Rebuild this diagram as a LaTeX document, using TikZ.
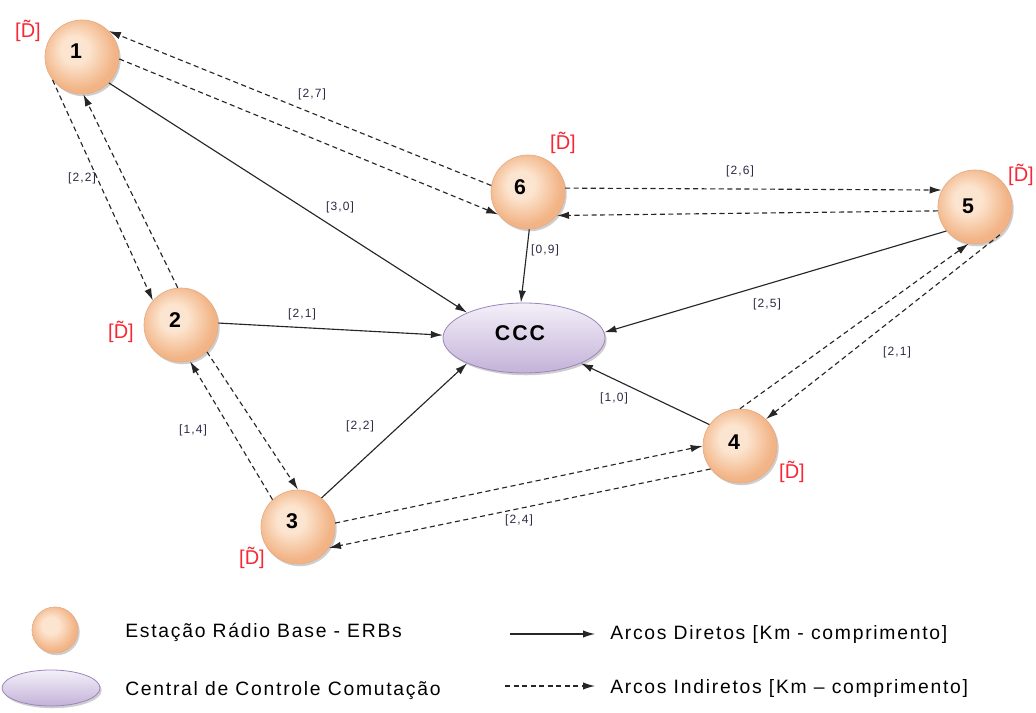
\documentclass[tikz,border=0pt]{standalone}
\usepackage{fontspec}
\setmainfont{Liberation Sans}[LetterSpace=9]
\newfontfamily\dfont{Liberation Sans}
\usetikzlibrary{arrows.meta,shadows,shapes.geometric}
\definecolor{erbL}{HTML}{FCE5D0}
\definecolor{erbD}{HTML}{F2B486}
\definecolor{erbB}{HTML}{E6AC82}
\definecolor{cccT}{HTML}{F4F0F9}
\definecolor{cccB}{HTML}{C3B2D8}
\definecolor{cccE}{HTML}{9A86BA}
\definecolor{dred}{HTML}{F52835}
\definecolor{lbl}{HTML}{2A2A44}
\definecolor{edge}{HTML}{262626}
\pgfdeclareradialshading{erbball}{\pgfpoint{-6bp}{6bp}}{color(0bp)=(erbL); color(9bp)=(erbL); color(25bp)=(erbD); color(50bp)=(erbD)}
\tikzset{
  erb/.style={circle, minimum size=55.5pt, inner sep=0pt, shade, shading=erbball,
    draw=erbB, line width=0.5pt,
    drop shadow={shadow xshift=1.3pt, shadow yshift=-1.7pt, fill=black!55, opacity=0.35}},
  cccs/.style={ellipse, minimum width=121.5pt, minimum height=52.5pt, inner sep=0pt,
    top color=cccT, bottom color=cccB, draw=cccE, line width=0.6pt,
    drop shadow={shadow xshift=1.3pt, shadow yshift=-1.7pt, fill=black!55, opacity=0.35}},
  numtxt/.style={font=\fontsize{16}{16}\selectfont\bfseries, inner sep=0pt},
  dt/.style={text=dred, font=\dfont\fontsize{15}{15}\selectfont, inner sep=0.5pt},
  el/.style={text=lbl, font=\fontsize{9}{9}\selectfont, inner sep=0pt},
  legtxt/.style={font=\fontsize{14.5}{14.5}\selectfont, inner sep=0pt, anchor=west},
  sarr/.style={draw=edge, line width=0.85pt, -{Latex[length=9pt,width=5.5pt]}},
  darr/.style={draw=edge, line width=0.85pt, dash pattern=on 3.8pt off 2.6pt,
    -{Latex[length=9pt,width=5.5pt]}},
}
\begin{document}
\begin{tikzpicture}[x=0.75pt,y=-0.75pt]
\path[use as bounding box] (0,0) rectangle (1036,713);

% nodes
\node[cccs] (ccc) at (524,338) {};
\node[font=\fontsize{16}{16}\selectfont\bfseries, inner sep=0pt] (ccct) at (520,333) {CCC};
\node[erb] (n1) at (82,57) {};
\node[erb] (n2) at (181,325) {};
\node[erb] (n3) at (298,527) {};
\node[erb] (n4) at (740,446) {};
\node[erb] (n5) at (975,207) {};
\node[erb] (n6) at (528,192) {};
\node[numtxt] (t1) at (76,51) {1};
\node[numtxt] (t2) at (175,320) {2};
\node[numtxt] (t3) at (292,521) {3};
\node[numtxt] (t4) at (734,442) {4};
\node[numtxt] (t5) at (968,206) {5};
\node[numtxt] (t6) at (520,187) {6};

% D labels
\node[dt] (d1) at (28,31) {[D̃]};
\node[dt] (d2) at (121,332) {[D̃]};
\node[dt] (d3) at (252,558) {[D̃]};
\node[dt] (d4) at (792,472) {[D̃]};
\node[dt] (d5) at (1021,175) {[D̃]};
\node[dt] (d6) at (563,143) {[D̃]};

% solid arcs
\draw[sarr] (n1.-44) -- (ccc.156);
\draw[sarr] (n2.3) -- (ccc.178);
\draw[sarr] (n3.51) -- (ccc.204);
\draw[sarr] (n6.-88) -- (ccc.95);
\draw[sarr] (n5.220) -- (ccc.4);
\draw[sarr] (n4.145) -- (ccc.-24);

% dashed arcs
\draw[darr] (n6.170) -- (n1.44);
\draw[darr] (n1.-3) -- (n6.217);
\draw[darr] (n6.6) -- (n5.153);
\draw[darr] (n5.186) -- (n6.-39);
\draw[darr] (n1.218) -- (n2.139);
\draw[darr] (n2.95) -- (n1.-88);
\draw[darr] (n2.-46) -- (n3.90);
\draw[darr] (n3.133) -- (n2.-76);
\draw[darr] (n3.6) -- (n4.180);
\draw[darr] (n4.218) -- (n3.-34);
\draw[darr] (n4.90) -- (n5.-100);
\draw[darr] (n5.-48) -- (n4.46);

% arc labels
\node[el] (l1) at (312,94) {[2,7]};
\node[el] (l2) at (82,178) {[2,2]};
\node[el] (l3) at (340,207) {[3,0]};
\node[el] (l4) at (740,171) {[2,6]};
\node[el] (l5) at (545,250) {[0,9]};
\node[el] (l6) at (302,314) {[2,1]};
\node[el] (l7) at (767,304) {[2,5]};
\node[el] (l8) at (897,352) {[2,1]};
\node[el] (l9) at (614,398) {[1,0]};
\node[el] (l10) at (193,430) {[1,4]};
\node[el] (l11) at (360,426) {[2,2]};
\node[el] (l12) at (519,520) {[2,4]};

% legend
\node[erb, minimum size=34.5pt] (lg1) at (55,630) {};
\node[cccs, minimum width=73.5pt, minimum height=27pt] (lg2) at (51,688) {};
\node[legtxt] (lt1) at (125,632) {Estação Rádio Base - ERBs};
\node[legtxt] (lt2) at (125,691) {Central de Controle Comutação};
\coordinate (la1) at (510,634);
\coordinate (lb1) at (595,634);
\draw[sarr] (la1) -- (lb1);
\coordinate (la2) at (505,686);
\coordinate (lb2) at (595,686);
\draw[darr] (la2) -- (lb2);
\node[legtxt] (lt3) at (610,634) {Arcos Diretos [Km - comprimento]};
\node[legtxt] (lt4) at (610,688) {Arcos Indiretos [Km – comprimento]};
\end{tikzpicture}
\end{document}
